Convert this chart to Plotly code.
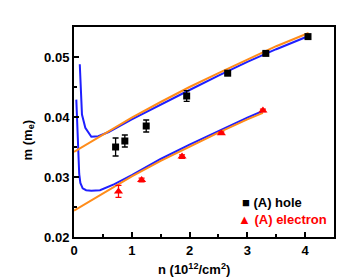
import plotly.graph_objects as go

# Data
hole_n = [0.72, 0.88, 1.25, 1.95, 2.66, 3.32, 4.05]
hole_m = [0.0350, 0.0360, 0.0385, 0.0435, 0.0473, 0.0506, 0.0534]
hole_err = [0.0015, 0.0010, 0.0010, 0.0009, 0.0003, 0.0003, 0.0002]

elec_n = [0.77, 1.17, 1.87, 2.55, 3.27]
elec_m = [0.0276, 0.0295, 0.0334, 0.0373, 0.0411]
elec_err = [0.0010, 0.0003, 0.0003, 0.0002, 0.0002]

blue_up_n = [0.10, 0.138, 0.196, 0.30, 0.42, 0.60, 1.0, 1.5, 2.0, 2.5, 3.0, 3.5, 4.06]
blue_up_m = [0.0488, 0.0404, 0.0382, 0.0367, 0.0368, 0.0375, 0.0396, 0.0421, 0.0445, 0.0469, 0.0492, 0.0513, 0.0535]

orange_up_n = [0.0, 0.5, 1.0, 1.5, 2.0, 2.5, 3.0, 3.5, 4.06]
orange_up_m = [0.0342, 0.0371, 0.0399, 0.0425, 0.0450, 0.0473, 0.0496, 0.0518, 0.0540]

blue_lo_n = [0.04, 0.06, 0.075, 0.09, 0.11, 0.15, 0.21, 0.30, 0.45, 0.70, 1.0, 1.5, 2.0, 2.5, 3.0, 3.27]
blue_lo_m = [0.0429, 0.0380, 0.0340, 0.0305, 0.0290, 0.0281, 0.0278, 0.0277, 0.0278, 0.0288, 0.0303, 0.0330, 0.0354, 0.0377, 0.0399, 0.0410]

orange_lo_n = [0.0, 0.5, 1.0, 1.5, 2.0, 2.5, 3.0, 3.27]
orange_lo_m = [0.0244, 0.0273, 0.0301, 0.0327, 0.0351, 0.0374, 0.0396, 0.0407]

x_ticks = [0, 1, 2, 3, 4]
y_ticks = [0.02, 0.03, 0.04, 0.05]

BLUE = "#1f1fff"
ORANGE = "#ff8c1a"
FONT = "Liberation Sans"

fig = go.Figure()
for n, m in [(blue_up_n, blue_up_m), (blue_lo_n, blue_lo_m)]:
    fig.add_trace(go.Scatter(x=n, y=m, mode="lines", line=dict(color=BLUE, width=2), showlegend=False))
for n, m in [(orange_up_n, orange_up_m), (orange_lo_n, orange_lo_m)]:
    fig.add_trace(go.Scatter(x=n, y=m, mode="lines", line=dict(color=ORANGE, width=2), showlegend=False))

fig.add_trace(go.Scatter(
    x=hole_n, y=hole_m, mode="markers",
    marker=dict(symbol="square", size=7, color="black"),
    error_y=dict(type="data", array=hole_err, color="black", thickness=1.3, width=3),
    showlegend=False))
fig.add_trace(go.Scatter(
    x=elec_n, y=elec_m, mode="markers",
    marker=dict(symbol="triangle-up", size=8, color="red"),
    error_y=dict(type="data", array=elec_err, color="red", thickness=1.3, width=3),
    showlegend=False))

# legend drawn as text
fig.add_annotation(xref="paper", yref="paper", x=1.0, y=0.165, xanchor="right", yanchor="middle",
                   text="■ (A) hole", showarrow=False,
                   font=dict(family=FONT, size=13, color="black", weight="bold"), xshift=-30)
fig.add_annotation(xref="paper", yref="paper", x=1.0, y=0.085, xanchor="right", yanchor="middle",
                   text="▲ (A) electron", showarrow=False,
                   font=dict(family=FONT, size=13, color="red", weight="bold"), xshift=-5)

# axis titles
fig.add_annotation(xref="paper", yref="paper", x=0.46, y=0, yshift=-32, xanchor="center", yanchor="middle",
                   text="n (10<sup>12</sup>/cm<sup>2</sup>)", showarrow=False,
                   font=dict(family=FONT, size=13, color="black", weight="bold"))
fig.add_annotation(xref="paper", yref="paper", x=0, xshift=-46, y=0.46, xanchor="center", yanchor="middle",
                   text="m (m<sub>e</sub>)", showarrow=False, textangle=-90,
                   font=dict(family=FONT, size=13, color="black", weight="bold"))

axis_common = dict(
    showline=True, linecolor="black", linewidth=2, mirror=True,
    ticks="inside", ticklen=5, tickwidth=1.5, tickcolor="black",
    showgrid=False, zeroline=False,
    tickfont=dict(family=FONT, size=13, color="black", weight="bold"),
)
fig.update_xaxes(range=[0, 4.5], tickvals=x_ticks, ticktext=[str(v) for v in x_ticks],
                 minor=dict(ticks="inside", ticklen=3, tickwidth=1.5, tickcolor="black", dtick=0.5),
                 **axis_common)
fig.update_yaxes(range=[0.02, 0.055], tickvals=y_ticks, ticktext=[f"{v:.2f}" for v in y_ticks],
                 minor=dict(ticks="inside", ticklen=3, tickwidth=1.5, tickcolor="black", dtick=0.005),
                 **axis_common)

fig.update_layout(width=346, height=279, margin=dict(l=66, r=20, t=19, b=50),
                  paper_bgcolor="white", plot_bgcolor="white", showlegend=False)

fig.write_html("out.html")
